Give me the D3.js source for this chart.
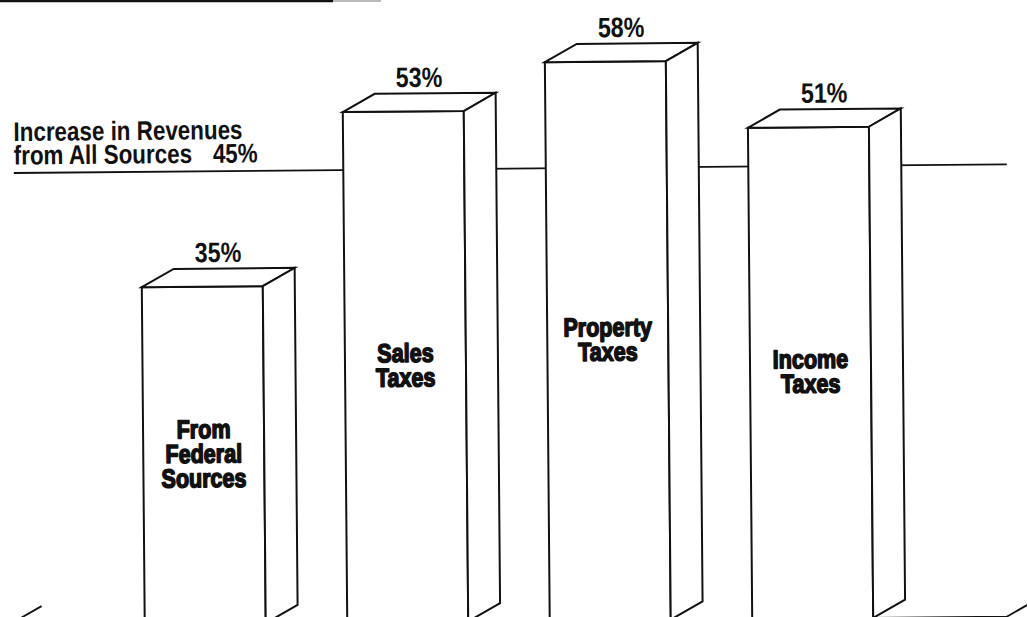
<!DOCTYPE html>
<html>
<head>
<meta charset="utf-8">
<script src="https://cdn.jsdelivr.net/npm/d3@7"></script>
<style>
  html, body { margin: 0; padding: 0; background: #fff; }
  svg { display: block; }
  .txt { font-family: "Liberation Sans", Arial, sans-serif; font-weight: bold; fill: #111; }
</style>
</head>
<body>
<script>
// Revenue growth by source, drawn as 3-D columns against the all-sources benchmark
const categories = ["From Federal Sources", "Sales Taxes", "Property Taxes", "Income Taxes"];
const categoryLines = [["From", "Federal", "Sources"], ["Sales", "Taxes"], ["Property", "Taxes"], ["Income", "Taxes"]];
const values = [35, 53, 58, 51];
const benchmarkValue = 45;
const benchmarkLines = ["Increase in Revenues", "from All Sources"];

const W = 1027, H = 617;
const ink = "#111";
const narrow = 0.83;   // condensed lettering

const svg = d3.select("body").append("svg")
  .attr("width", W).attr("height", H)
  .attr("viewBox", `0 0 ${W} ${H}`);

svg.append("rect").attr("width", W).attr("height", H).attr("fill", "#fff");

// page rule above the chart
svg.append("line").attr("x1", 0).attr("x2", 333).attr("y1", 1).attr("y2", 1)
  .attr("stroke", ink).attr("stroke-width", 2.5);
svg.append("line").attr("x1", 333).attr("x2", 381).attr("y1", 1).attr("y2", 1)
  .attr("stroke", "#bbb").attr("stroke-width", 2);

// the printed page sits very slightly askew
const g = svg.append("g").attr("transform", "rotate(-0.5, 513, 308)");

// condensed text block: lines stacked from a first baseline
function label(parent, px, py, lines, size, anchor, lh) {
  const t = parent.append("text").attr("class", "txt")
    .attr("transform", `translate(${px},${py}) scale(${narrow},1)`)
    .attr("font-size", size).attr("text-anchor", anchor);
  lines.forEach((ln, k) => t.append("tspan").attr("x", 0).attr("y", k * (lh || 0)).text(ln));
  return t;
}

const x = d3.scaleBand().domain(categories)
  .range([142, 870.5]).paddingInner(0.4025).paddingOuter(0);
const y = d3.scaleLinear().domain([0, 60]).range([621, 43.2]);

const bw = x.bandwidth();
const depth = { dx: 32, dy: -18 };   // column depth
const wall = { dx: 34, dy: -19 };    // back wall offset
const base = y(0);

// floor outline
const floorL = 5, floorR = 1004;
g.append("path")
  .attr("d", `M${floorL + wall.dx},${base + wall.dy} L${floorL},${base} L${floorR},${base} L${floorR + wall.dx},${base + wall.dy}`)
  .attr("fill", "none").attr("stroke", ink).attr("stroke-width", 1.8);

// benchmark line on the back wall
const by = y(benchmarkValue) + wall.dy;
g.append("line").attr("x1", 15).attr("x2", 1008).attr("y1", by).attr("y2", by)
  .attr("stroke", ink).attr("stroke-width", 1.8);

label(g, 15, by - 32, benchmarkLines, 27, "start", 23.5);
label(g, 259, by - 8.5, [benchmarkValue + "%"], 27, "end");

// columns
const data = categories.map((c, i) => ({ c, v: values[i], lines: categoryLines[i] }));
const col = g.selectAll("g.col").data(data).join("g").attr("class", "col");

col.each(function (d) {
  const s = d3.select(this);
  const x0 = x(d.c), x1 = x0 + bw, t = y(d.v);
  const face = (pts) => s.append("path")
    .attr("d", "M" + pts.map(q => q.join(",")).join("L") + "Z")
    .attr("fill", "#fff").attr("stroke", ink).attr("stroke-width", 2);
  // front
  face([[x0, t], [x1, t], [x1, base], [x0, base]]);
  // top
  face([[x0, t], [x0 + depth.dx, t + depth.dy], [x1 + depth.dx, t + depth.dy], [x1, t]]);
  // side
  face([[x1, t], [x1 + depth.dx, t + depth.dy], [x1 + depth.dx, base + depth.dy], [x1, base]]);

  // value above the column
  label(s, x0 + (bw + depth.dx) / 2, t + depth.dy - 6.5, [d.v + "%"], 28, "middle");

  // category name on the front face, centred in the visible face
  const lh = 24.5, cap = 19;
  const mid = (t + H) / 2;
  const first = mid - ((d.lines.length - 1) * lh + cap) / 2 + cap;
  label(s, x0 + bw / 2, first, d.lines, 26, "middle", lh)
    .attr("stroke", ink).attr("stroke-width", 1.6).attr("stroke-linejoin", "round");
});
</script>
</body>
</html>
